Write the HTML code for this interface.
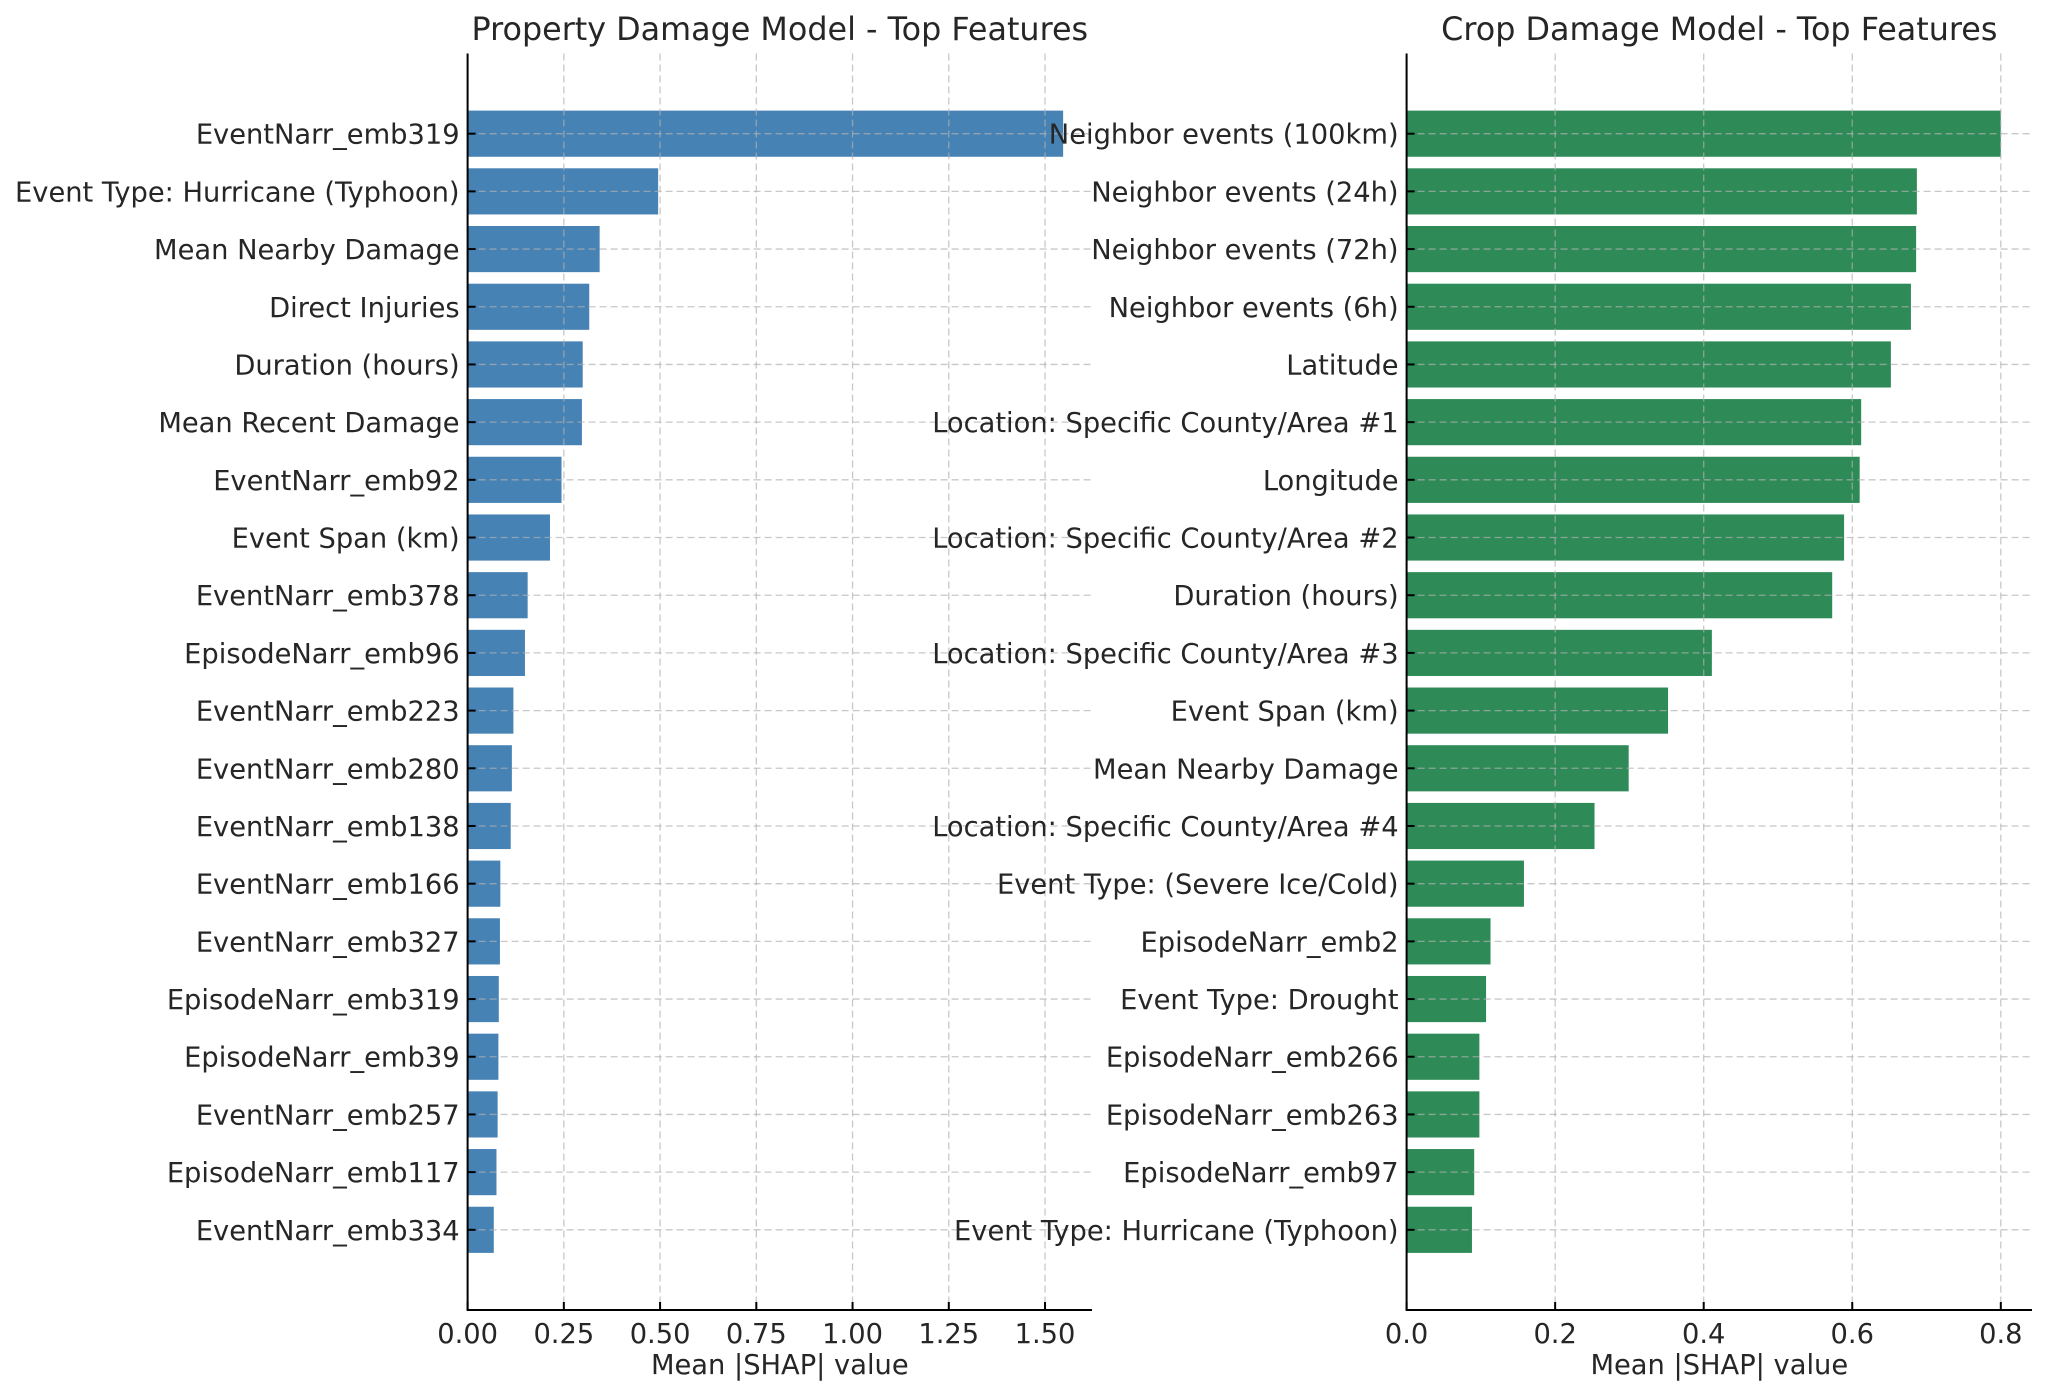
<!DOCTYPE html>
<html><head><meta charset="utf-8"><style>
html,body{margin:0;padding:0;background:#fff;}
svg{display:block;font-family:"DejaVu Sans","Liberation Sans",sans-serif;}
</style></head><body>
<svg id="chart" width="2048" height="1397" viewBox="0 0 2048 1397" xmlns="http://www.w3.org/2000/svg"></svg>
<script>
const propLabels=["EventNarr_emb319","Event Type: Hurricane (Typhoon)","Mean Nearby Damage","Direct Injuries","Duration (hours)","Mean Recent Damage","EventNarr_emb92","Event Span (km)","EventNarr_emb378","EpisodeNarr_emb96","EventNarr_emb223","EventNarr_emb280","EventNarr_emb138","EventNarr_emb166","EventNarr_emb327","EpisodeNarr_emb319","EpisodeNarr_emb39","EventNarr_emb257","EpisodeNarr_emb117","EventNarr_emb334"];
const propValues=[1.547,0.495,0.343,0.316,0.299,0.297,0.244,0.214,0.156,0.149,0.119,0.115,0.112,0.085,0.084,0.081,0.080,0.078,0.075,0.068];
const propTicks=[0,0.25,0.5,0.75,1.0,1.25,1.5];
const propTickLabels=["0.00","0.25","0.50","0.75","1.00","1.25","1.50"];
const cropLabels=["Neighbor events (100km)","Neighbor events (24h)","Neighbor events (72h)","Neighbor events (6h)","Latitude","Location: Specific County/Area #1","Longitude","Location: Specific County/Area #2","Duration (hours)","Location: Specific County/Area #3","Event Span (km)","Mean Nearby Damage","Location: Specific County/Area #4","Event Type: (Severe Ice/Cold)","EpisodeNarr_emb2","Event Type: Drought","EpisodeNarr_emb266","EpisodeNarr_emb263","EpisodeNarr_emb97","Event Type: Hurricane (Typhoon)"];
const cropValues=[0.800,0.687,0.686,0.679,0.652,0.612,0.610,0.589,0.573,0.411,0.352,0.299,0.253,0.158,0.113,0.107,0.098,0.098,0.091,0.088];
const cropTicks=[0,0.2,0.4,0.6,0.8];
const cropTickLabels=["0.0","0.2","0.4","0.6","0.8"];

const NS="http://www.w3.org/2000/svg";
const svg=document.getElementById('chart');
function mk(tag,attrs,parent){const e=document.createElementNS(NS,tag);for(const k in attrs)e.setAttribute(k,attrs[k]);(parent||svg).appendChild(e);return e;}

function panel(cfg){
  const g=mk('g',{});
  
  
  const top=53.5,bottom=1310,n=cfg.labels.length;
  const ymin=-0.4-0.99,ymax=n-1+0.4+0.99;
  const yScale=i=>top+(i-ymin)/(ymax-ymin)*(bottom-top);
  const xScale=v=>cfg.x0+v/cfg.xmax*(cfg.x1-cfg.x0);
  const bh=0.8*(bottom-top)/(ymax-ymin);
  cfg.values.forEach((v,i)=>{
    const r=mk('rect',{x:xScale(0),y:yScale(i)-bh/2,width:xScale(v)-xScale(0),height:bh,fill:cfg.color},g);
    
    
  });
  cfg.ticks.forEach(t=>{mk('line',{x1:xScale(t),x2:xScale(t),y1:top,y2:bottom,stroke:'#b0b0b0','stroke-width':1.3,'stroke-dasharray':'7,4','stroke-opacity':0.7},g);});
  cfg.labels.forEach((l,i)=>{mk('line',{x1:cfg.x0,x2:cfg.x1,y1:yScale(i),y2:yScale(i),stroke:'#b0b0b0','stroke-width':1.3,'stroke-dasharray':'7,4','stroke-opacity':0.7},g);});
  mk('line',{x1:cfg.x0,x2:cfg.x0,y1:top,y2:bottom,stroke:'#000','stroke-width':2},g);
  mk('line',{x1:cfg.x0-1,x2:cfg.x1,y1:bottom,y2:bottom,stroke:'#000','stroke-width':2},g);
  cfg.labels.forEach((l,i)=>{
    mk('line',{x1:cfg.x0,x2:cfg.x0+8,y1:yScale(i),y2:yScale(i),stroke:'#000','stroke-width':2},g);
    const t=mk('text',{x:cfg.x0-8,y:yScale(i)+10,'text-anchor':'end','font-size':27.3,fill:'#262626'},g);
    t.textContent=l;
    
    
  });
  cfg.ticks.forEach((tv,i)=>{
    mk('line',{x1:xScale(tv),x2:xScale(tv),y1:bottom,y2:bottom-8,stroke:'#000','stroke-width':2},g);
    const t=mk('text',{x:xScale(tv),y:bottom+33,'text-anchor':'middle','font-size':27.3,fill:'#262626'},g);
    t.textContent=cfg.tickLabels[i];
    
    
  });
  const xl=mk('text',{x:(cfg.x0+cfg.x1)/2,y:1374,'text-anchor':'middle','font-size':27.3,fill:'#262626'},g);
  xl.textContent='Mean |SHAP| value';
  
  
  const tt=mk('text',{x:(cfg.x0+cfg.x1)/2,y:40,'text-anchor':'middle','font-size':31.8,fill:'#262626'},g);
  tt.textContent=cfg.title;
  
  
}
panel({name:'property-damage-panel',labels:propLabels,values:propValues,ticks:propTicks,tickLabels:propTickLabels,x0:467.6,x1:1092,xmax:1.622,color:'#4682b4',title:'Property Damage Model - Top Features'});
panel({name:'crop-damage-panel',labels:cropLabels,values:cropValues,ticks:cropTicks,tickLabels:cropTickLabels,x0:1406.6,x1:2032,xmax:0.842,color:'#2e8b57',title:'Crop Damage Model - Top Features'});
</script>
</body></html>
